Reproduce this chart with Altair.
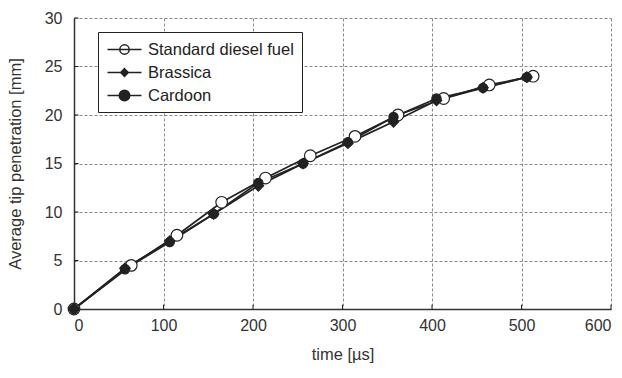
import altair as alt
import pandas as pd

series = ["Standard diesel fuel", "Brassica", "Cardoon"]

time_diesel = [0, 64, 115, 165, 214, 264, 314, 362, 413, 464, 513]
pen_diesel = [0, 4.5, 7.6, 11.0, 13.5, 15.8, 17.8, 20.0, 21.7, 23.1, 24.0]

time_brassica = [0, 57, 107, 156, 206, 256, 306, 357, 405, 457, 506]
pen_brassica = [0, 4.2, 7.0, 9.8, 12.7, 15.0, 17.1, 19.3, 21.5, 22.8, 23.9]

time_cardoon = [0, 57, 107, 156, 206, 256, 306, 357, 405, 457, 506]
pen_cardoon = [0, 4.1, 6.9, 9.8, 13.0, 15.0, 17.2, 19.8, 21.7, 22.8, 23.9]

x_ticks = [0, 100, 200, 300, 400, 500, 600]
y_ticks = [0, 5, 10, 15, 20, 25, 30]

rows = []
for name, ts, ps in [(series[0], time_diesel, pen_diesel),
                     (series[1], time_brassica, pen_brassica),
                     (series[2], time_cardoon, pen_cardoon)]:
    for t, p in zip(ts, ps):
        rows.append({"series": name, "order": series.index(name), "time": t, "pen": p})
df = pd.DataFrame(rows)

xt = pd.DataFrame({"t": x_ticks})
yt = pd.DataFrame({"v": y_ticks})

FONT = "Liberation Sans"
INK = "#222222"

xscale = alt.Scale(domain=[0, 600], nice=False)
yscale = alt.Scale(domain=[0, 30], nice=False)

x_enc = alt.X("time:Q", scale=xscale,
              axis=alt.Axis(values=x_ticks, title="time [µs]", labelPadding=8, titlePadding=13))
y_enc = alt.Y("pen:Q", scale=yscale,
              axis=alt.Axis(values=y_ticks, title="Average tip penetration [mm]", labelPadding=12, titlePadding=21))

lines = alt.Chart(df).mark_line(color=INK, strokeWidth=1.7).encode(
    x=x_enc, y=y_enc, detail="series:N", order="time:Q"
)

points = alt.Chart(df).mark_point(filled=False, stroke=INK, strokeWidth=1.2, opacity=1).encode(
    x=x_enc, y=y_enc,
    shape=alt.Shape("series:N", scale=alt.Scale(domain=series, range=["circle", "diamond", "circle"]), legend=None),
    fill=alt.Fill("series:N", scale=alt.Scale(domain=series, range=["white", INK, INK]), legend=None),
    size=alt.Size("series:N", scale=alt.Scale(domain=series, range=[135, 85, 140]), legend=None),
    order=alt.Order("order:Q"),
)

p_open = "M-2,0H2M-0.55,0A0.55,0.55 0 1,0 0.55,0A0.55,0.55 0 1,0 -0.55,0Z"
p_diam = "M-2,0H2M0,-0.45L0.45,0L0,0.45L-0.45,0Z"
p_fill = "M-2,0H2M-0.62,0A0.62,0.62 0 1,0 0.62,0A0.62,0.62 0 1,0 -0.62,0Z"

leg = alt.Legend(
    title=None, orient="none", legendX=24, legendY=14,
    strokeColor=INK, fillColor="white", padding=8,
    labelFont=FONT, labelFontSize=16.5, labelColor=INK, labelOffset=14,
    symbolSize=289, symbolStrokeWidth=1.5, symbolStrokeColor=INK,
    symbolOffset=9, rowPadding=5, labelLimit=300,
)

legend_layer = alt.Chart(df).mark_point(filled=False, strokeWidth=1.5, opacity=1).encode(
    x=x_enc, y=y_enc,
    shape=alt.Shape("series:N", scale=alt.Scale(domain=series, range=[p_open, p_diam, p_fill]), legend=leg),
    fill=alt.Fill("series:N", scale=alt.Scale(domain=series, range=["white", INK, INK]), legend=leg),
    stroke=alt.Stroke("series:N", scale=alt.Scale(domain=series, range=[INK, INK, INK]), legend=leg),
).transform_filter("false")

xticks_rule = alt.Chart(xt).mark_rule(color=INK, strokeWidth=1).encode(
    x=alt.X("t:Q", scale=xscale), y=alt.datum(0), y2=alt.datum(0.45)
)
yticks_rule = alt.Chart(yt).mark_rule(color=INK, strokeWidth=1).encode(
    y=alt.Y("v:Q", scale=yscale), x=alt.datum(0), x2=alt.datum(5)
)

chart = alt.layer(xticks_rule, yticks_rule, lines, points, legend_layer).resolve_scale(
    shape="independent", fill="independent", size="independent", stroke="independent"
).properties(
    width=537, height=291,
    padding={"left": 74, "top": 18, "right": 11, "bottom": 69},
    autosize=alt.AutoSizeParams(type="none"),
    background="white",
).configure_view(
    strokeOpacity=0
).configure_axis(
    grid=True, gridDash=[3, 2], gridColor="#8a8a8a", gridWidth=1,
    domainColor="#333333", domainWidth=1.5,
    ticks=False,
    labelFont=FONT, labelFontSize=16, labelColor="#333333",
    titleFont=FONT, titleFontSize=16.5, titleFontWeight="normal", titleColor="#333333",
)

chart.save("out.html", embed_options={"renderer": "svg", "actions": False})
